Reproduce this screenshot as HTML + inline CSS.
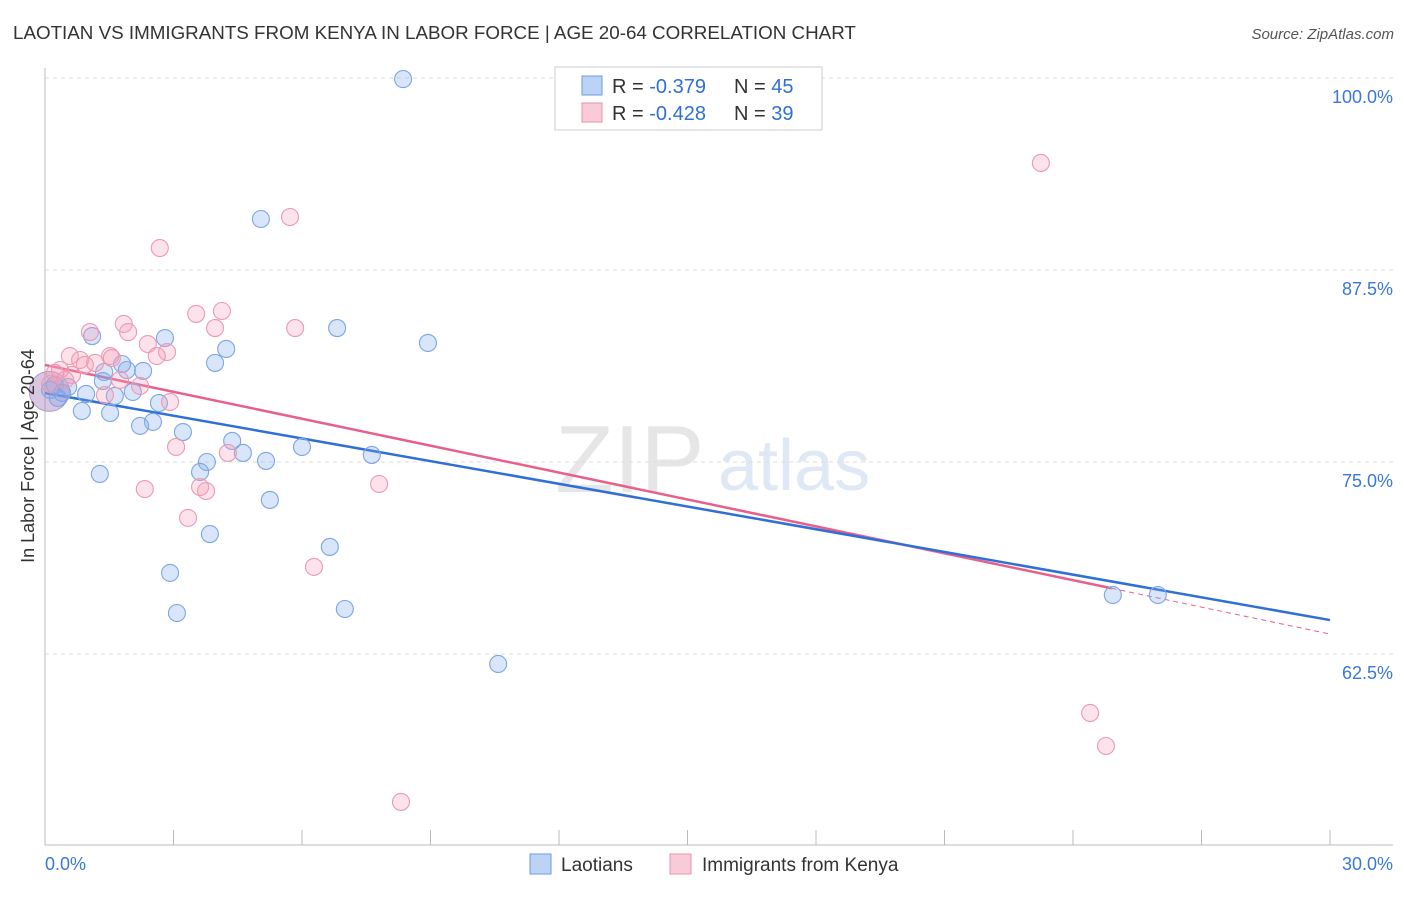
<!DOCTYPE html>
<html><head><meta charset="utf-8"><style>
body{margin:0;background:#fff;font-family:"Liberation Sans",sans-serif;}
svg text{font-family:"Liberation Sans",sans-serif;}
</style></head><body>
<svg id="chart" width="1406" height="892" xmlns="http://www.w3.org/2000/svg">
<text x="13" y="39" font-size="18.8" fill="#333">LAOTIAN VS IMMIGRANTS FROM KENYA IN LABOR FORCE | AGE 20-64 CORRELATION CHART</text>
<text x="1394" y="39" font-size="15" fill="#555" text-anchor="end" font-style="italic">Source: ZipAtlas.com</text>
<text x="555" y="492" font-size="96" fill="#e6e6e6" font-family="Liberation Serif">ZIP</text>
<text x="718" y="490" font-size="72" fill="#dfe8f5">atlas</text>
<g id="grid"></g>
<g id="axes"></g>
<g id="lines"></g>
<g id="points"></g>
<text transform="translate(34,456) rotate(-90)" font-size="18" fill="#333" text-anchor="middle">In Labor Force | Age 20-64</text>
<g>
<rect x="555" y="67" width="267" height="63" fill="#fff" stroke="#ccc"/>
<rect x="582" y="76" width="20" height="19" fill="#bcd3f5" stroke="#6a9be0"/>
<rect x="582" y="103" width="20" height="19" fill="#f9cbd8" stroke="#e890aa"/>
<text x="612" y="93" font-size="20" fill="#333">R = <tspan fill="#2f6fd6">-0.379</tspan></text>
<text x="734" y="93" font-size="20" fill="#333">N = <tspan fill="#2f6fd6">45</tspan></text>
<text x="612" y="120" font-size="20" fill="#333">R = <tspan fill="#2f6fd6">-0.428</tspan></text>
<text x="734" y="120" font-size="20" fill="#333">N = <tspan fill="#2f6fd6">39</tspan></text>
</g>
<g>
<rect x="530" y="854" width="21" height="20" fill="#bcd3f5" stroke="#6a9be0"/>
<text x="561" y="871" font-size="19" fill="#333">Laotians</text>
<rect x="670" y="854" width="21" height="20" fill="#f9cbd8" stroke="#e890aa"/>
<text x="702" y="871" font-size="19" fill="#333">Immigrants from Kenya</text>
</g>
</svg>
<script>
const yTicks=[100,87.5,75,62.5];
const yTickLabels=["100.0%","87.5%","75.0%","62.5%"];
const blueX=[8.36,5.04,6.82,8.94,2.80,1.10,4.23,3.97,1.80,1.91,2.29,1.38,1.35,0.54,0.40,0.96,1.63,2.05,2.66,0.86,1.52,2.52,2.22,3.22,4.37,4.62,6.00,7.63,3.78,5.16,3.62,1.28,5.25,3.85,6.65,2.92,3.08,7.00,10.58,24.93,25.98,0.23,0.12,0.30];
const blueY=[99.93,90.82,83.72,82.75,83.07,83.20,82.36,81.45,81.38,80.99,80.93,80.86,80.27,79.88,79.49,79.43,79.30,79.56,78.84,78.32,78.19,77.61,77.35,76.95,76.37,75.59,75.98,75.46,75.0,75.07,74.35,74.22,72.53,70.31,69.47,67.78,65.17,65.43,61.85,66.34,66.34,80.01,79.69,79.17];
const pinkX=[23.25,5.72,2.68,4.13,3.53,1.84,1.94,3.97,5.84,1.05,2.40,2.85,2.61,0.58,1.52,0.82,1.17,1.56,0.35,1.75,2.22,2.92,0.63,3.06,4.27,2.33,3.62,3.76,3.34,6.28,7.80,24.40,24.77,8.31,0.12,0.93,0.23,1.40,0.47];
const pinkY=[94.47,90.95,88.93,84.83,84.64,83.99,83.46,83.72,83.72,83.46,82.68,82.16,81.90,81.90,81.90,81.64,81.45,81.77,80.99,80.34,79.95,78.91,80.67,75.98,75.59,73.24,73.37,73.11,71.36,68.17,73.57,58.66,56.51,52.87,80.08,81.32,80.80,79.36,80.34];
const blueTrend=[79.49,64.71];
const pinkTrend=[81.32,63.80];
const pinkSolidEnd=24.9;
const NS="http://www.w3.org/2000/svg";
const sx=v=>45+v/30*1285;
const sy=v=>78+(100-v)/12.5*192;
function mk(tag,attrs,parent){const e=document.createElementNS(NS,tag);for(const k in attrs)e.setAttribute(k,attrs[k]);document.getElementById(parent).appendChild(e);return e;}
yTicks.forEach((t,i)=>{
 const l=mk('line',{x1:45,x2:1393,y1:sy(t),y2:sy(t),stroke:'#ddd','stroke-dasharray':'4,4'},'grid');
 
 
 const tx=mk('text',{x:1393,y:sy(t)+25,'font-size':18,fill:'#3a78d8','text-anchor':'end'},'grid');
 tx.textContent=yTickLabels[i];
 
 
});
let a=mk('line',{x1:45,x2:45,y1:68,y2:845,stroke:'#bbb'},'axes');


a=mk('line',{x1:45,x2:1393,y1:845,y2:845,stroke:'#bbb'},'axes');


for(let i=1;i<=10;i++){const t=mk('line',{x1:sx(i*3),x2:sx(i*3),y1:830,y2:845,stroke:'#bbb'},'axes');
 
 }
[["0.0%",45,'start'],["30.0%",1393,'end']].forEach(d=>{const t=mk('text',{x:d[1],y:870,'font-size':18,fill:'#3a78d8','text-anchor':d[2]},'axes');t.textContent=d[0];
 
 });
const blob=mk('circle',{cx:sx(0.1),cy:sy(79.6),r:20,fill:'rgba(170,130,190,0.45)',stroke:'#b59ac8'},'points');


function pts(xs,ys,fill,stroke,name){
 xs.forEach((x,i)=>{const c=mk('circle',{cx:sx(x),cy:sy(ys[i]),r:8.5,fill:fill,stroke:stroke,'stroke-width':1.1},'points');
 
 });
}
pts(blueX,blueY,'rgba(130,170,235,0.3)','#7ca6e4','laotian');
pts(pinkX,pinkY,'rgba(245,160,185,0.3)','#eb9ab3','kenya');
const lerp=(tr,x)=>tr[0]+(tr[1]-tr[0])*x/30;
let l=mk('line',{x1:sx(0),y1:sy(pinkTrend[0]),x2:sx(pinkSolidEnd),y2:sy(lerp(pinkTrend,pinkSolidEnd)),stroke:'#e8608a','stroke-width':2.5},'lines');


l=mk('line',{x1:sx(pinkSolidEnd),y1:sy(lerp(pinkTrend,pinkSolidEnd)),x2:sx(30),y2:sy(pinkTrend[1]),stroke:'#e8608a','stroke-width':1,'stroke-dasharray':'5,4'},'lines');


l=mk('line',{x1:sx(0),y1:sy(blueTrend[0]),x2:sx(30),y2:sy(blueTrend[1]),stroke:'#2f6fd6','stroke-width':2.5},'lines');


</script>
</body></html>
